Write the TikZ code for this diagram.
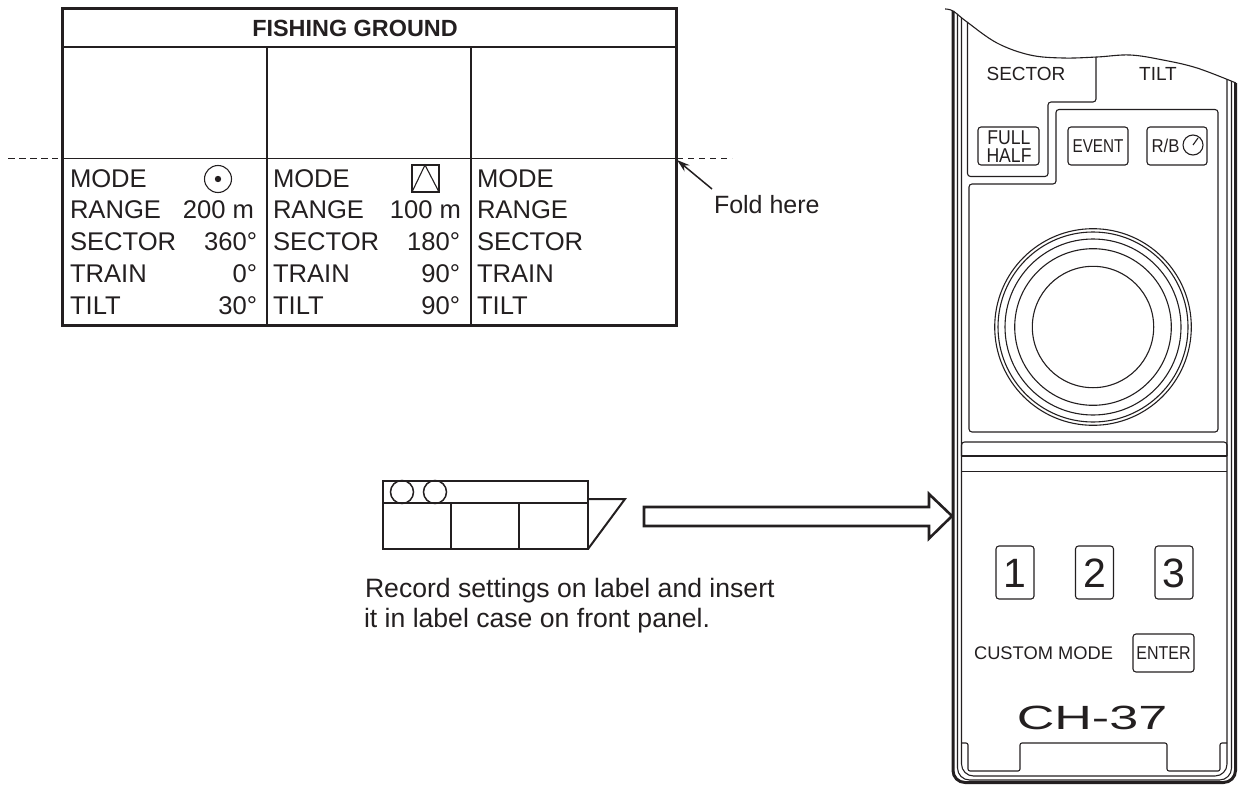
\documentclass[tikz,border=0pt]{standalone}
\usepackage{graphicx}
\usepackage{fontspec}
\setmainfont{Liberation Sans}
\usetikzlibrary{arrows.meta}
\definecolor{ink}{HTML}{231F20}
\newcommand{\fsz}[1]{\fontsize{#1}{#1}\selectfont}
\tikzset{
  txt/.style={inner sep=0pt,outer sep=0pt,text=ink,anchor=base west,font=\fsz{25.6}},
  val/.style={txt,anchor=base east},
  pan/.style={inner sep=0pt,outer sep=0pt,text=ink,anchor=base,font=\fsz{18.6}},
  thin line/.style={draw=ink,line width=1.1pt},
  mid line/.style={draw=ink,line width=1.5pt},
  thick line/.style={draw=ink,line width=3pt},
  key/.style={draw=ink,line width=1.1pt,rounded corners=3pt},
}
\begin{document}
\begin{tikzpicture}[x=1pt,y=-1pt]
\useasboundingbox (0,0) rectangle (1244,784);
% ---------- table
\draw[thick line] (62,9) rectangle (676,325);
\draw[mid line] (62,47) -- (676,47);
\draw[mid line] (62,158.5) -- (676,158.5);
\draw[mid line] (267,47) -- (267,325);
\draw[mid line] (471,47) -- (471,325);
\draw[thin line,dash pattern=on 7pt off 4pt] (8,158.5) -- (58,158.5);
\draw[thin line,dash pattern=on 6pt off 5pt] (677,158.5) -- (732,158.5);
\node[txt,anchor=base,font=\fsz{23.4}\bfseries] (title) at (355,37) {FISHING GROUND};
\foreach \n/\t/\y in {a/MODE/187,b/RANGE/218.5,c/SECTOR/250,d/TRAIN/282,e/TILT/314}{
  \node[txt] (l1\n) at (70,\y) {\t};
  \node[txt] (l2\n) at (273,\y) {\t};
  \node[txt] (l3\n) at (477,\y) {\t};
}
\node[val] (v1b) at (254,218.5) {200 m};
\node[val] (v1c) at (257,250) {360°};
\node[val] (v1d) at (257,282) {0°};
\node[val] (v1e) at (257,314) {30°};
\node[val] (v2b) at (461,218.5) {100 m};
\node[val] (v2c) at (460,250) {180°};
\node[val] (v2d) at (460,282) {90°};
\node[val] (v2e) at (460,314) {90°};
\draw[thin line] (218,179) circle (13.5);
\fill[ink] (218,179) circle (3.2);
\draw[thin line] (412,165) rectangle (439,192);
\draw[thin line] (412,192) -- (425,165) -- (439,192);
% ---------- fold note
\node[txt,font=\fsz{25}] (fold) at (714,213) {Fold here};
\coordinate (foldpt) at (677,160);
\coordinate (foldst) at (712,189);
\draw[mid line,-{Stealth[length=13pt,width=8pt]}] (foldst) -- (foldpt);
% ---------- small label
\draw[mid line] (383,503) -- (588,503);
\draw[mid line] (451,503) -- (451,549);
\draw[mid line] (519,503) -- (519,549);
\draw[mid line] (402,492) circle (11.5);
\draw[mid line] (435,492) circle (11.5);
\draw[draw=ink,line width=2pt,line join=miter] (588,499) -- (625,499) -- (588,549);
\draw[draw=ink,line width=2.6pt] (383,481) rectangle (588,549);
\node[txt,font=\fsz{26.6}] (rec1) at (365,597) {Record settings on label and insert};
\node[txt,font=\fsz{26.6}] (rec2) at (364,627.5) {it in label case on front panel.};
% ---------- big arrow
\draw[draw=ink,line width=2.6pt,line join=miter] (929,507) -- (644,507) -- (644,526) -- (929,526)
  -- (929,538.5) -- (952,516) -- (929,494) -- cycle;
% ---------- panel frame
\draw[thick line,rounded corners=12pt] (953,11) -- (953,782.5) -- (1235.5,782.5) -- (1235.5,83);
\draw[thin line,rounded corners=12pt] (957.5,14) -- (957.5,780) -- (1231.5,780) -- (1231.5,81);
\draw[thin line,rounded corners=12pt] (961.5,18) -- (961.5,776) -- (1227,776) -- (1227,79);
% wave
\draw[thin line] plot[smooth,tension=0.6] coordinates {(945,9) (953,11) (967,22) (997,43) (1030,55) (1063,58) (1097,57) (1130,55) (1163,60) (1197,68) (1236,83)};
% sector pane
\draw[thin line,rounded corners=3pt] (967.5,22) -- (967.5,176.5) -- (1048,176.5) -- (1048,102) -- (1096,102) -- (1096,57);
% lower right box
\draw[thin line,rounded corners=3pt] (969,432) -- (969,184) -- (1056,184) -- (1056,109.5) -- (1218,109.5) -- (1218,432) -- cycle;
% strip
\draw[thin line,rounded corners=3pt] (961.5,456) -- (961.5,442) -- (1227,442) -- (1227,456);
\draw[thin line] (961.5,456) -- (1227,456);
\draw[mid line] (961.5,471.5) -- (1227,471.5);
% slot
\draw[thin line,rounded corners=2pt] (961.5,743) -- (968,743) -- (968,771) -- (1020,771) -- (1020,743) -- (1167,743) -- (1167,771) -- (1220,771) -- (1220,743) -- (1227,743);
% knob
\foreach \r in {60.7,78.3,88,95,98.3} \draw[thin line] (1093,327) circle (\r);
% upper buttons
\draw[key] (978,127) rectangle (1039,165);
\draw[key] (1068,127) rectangle (1128,165);
\draw[key] (1147,127) rectangle (1207,165);
\node[pan,font=\fsz{19}] (lsec) at (1026,81) {SECTOR};
\node[pan,font=\fsz{19}] (ltilt) at (1158,81) {TILT};
\node[pan,font=\fsz{20}] (lfull) at (1009,144) {\scalebox{0.88}[1]{FULL}};
\node[pan,font=\fsz{20}] (lhalf) at (1009,162) {\scalebox{0.88}[1]{HALF}};
\node[pan] (levent) at (1098,152) {\scalebox{0.82}[1]{EVENT}};
\node[pan,anchor=base west] (lrb) at (1151.5,152) {\scalebox{0.9}[1]{R/B}};
\draw[thin line] (1193,145) circle (10);
\draw[thin line] (1193,145) -- (1198,138);
% number keys
\draw[key] (996,546) rectangle (1034,599);
\draw[key] (1075.5,546) rectangle (1113.5,599);
\draw[key] (1155,546) rectangle (1193,599);
\node[pan,font=\fsz{41}] (k1) at (1015,587.5) {1};
\node[pan,font=\fsz{41}] (k2) at (1094.5,587.5) {2};
\node[pan,font=\fsz{41}] (k3) at (1174,587.5) {3};
\node[pan,font=\fsz{18.3}] (custom) at (1043.5,659) {CUSTOM MODE};
\draw[key] (1133,634) rectangle (1194,672);
\node[pan] (lenter) at (1163.5,659) {\scalebox{0.86}[1]{ENTER}};
\node[pan,font=\fsz{33.6}] (model) at (1092,729) {\scalebox{1.55}[1]{CH-37}};
\end{tikzpicture}
\end{document}
